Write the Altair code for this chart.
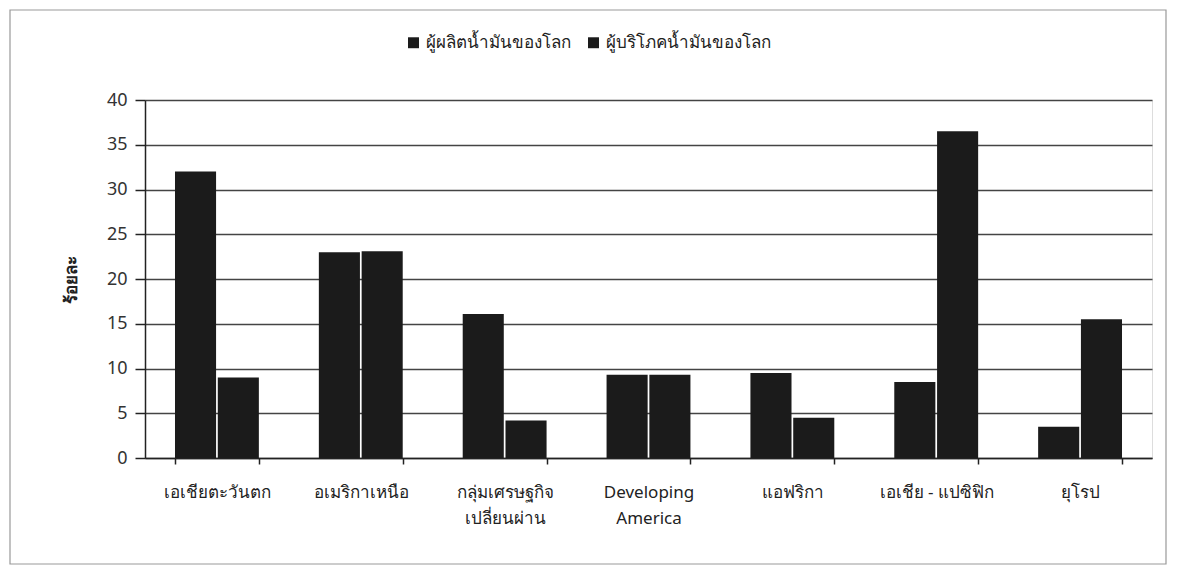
import altair as alt
import pandas as pd

categories = ["เอเชียตะวันตก", "อเมริกาเหนือ", "กลุ่มเศรษฐกิจ\nเปลี่ยนผ่าน", "Developing\nAmerica",
              "แอฟริกา", "เอเชีย - แปซิฟิก", "ยุโรป"]
series = ["ผู้ผลิตน้ำมันของโลก", "ผู้บริโภคน้ำมันของโลก"]
producers = [32.0, 23.0, 16.1, 9.3, 9.5, 8.5, 3.5]
consumers = [9.0, 23.1, 4.2, 9.3, 4.5, 36.5, 15.5]

rows = []
for c, p, q in zip(categories, producers, consumers):
    rows.append({"region": c, "series": series[0], "value": p})
    rows.append({"region": c, "series": series[1], "value": q})
df = pd.DataFrame(rows)

FONT = "Noto Sans"
W, H = 1007, 358

bars = alt.Chart(df).mark_bar(color="#1b1b1b").encode(
    x=alt.X("region:N", sort=categories,
            scale=alt.Scale(paddingInner=0.417, paddingOuter=0.2085),
            axis=alt.Axis(title=None, labelAngle=0, tickBand="extent",
                          labelExpr="split(datum.label, '\\n')",
                          labelFont=FONT, labelFontSize=17, labelColor="#222",
                          labelPadding=20, labelLineHeight=26,
                          domainColor="#222", domainWidth=1.5,
                          tickColor="#222", tickSize=6, tickWidth=1.5, grid=False)),
    xOffset=alt.XOffset("series:N", sort=series, scale=alt.Scale(paddingInner=0.04)),
    y=alt.Y("value:Q", scale=alt.Scale(domain=[0, 40]),
            axis=alt.Axis(title="ร้อยละ", values=[0, 5, 10, 15, 20, 25, 30, 35, 40],
                          titleFont=FONT, titleFontSize=17, titleFontWeight="bold",
                          titleColor="#222", titlePadding=26,
                          labelFont=FONT, labelFontSize=18, labelColor="#333",
                          labelPadding=8,
                          domainColor="#222", domainWidth=1.5,
                          tickColor="#222", tickSize=10, tickWidth=1.5,
                          grid=True, gridColor="#444", gridWidth=1.3)),
    fill=alt.Fill("series:N", sort=series,
                  scale=alt.Scale(domain=series, range=["#1b1b1b", "#1b1b1b"]),
                  legend=alt.Legend(title=None, orient="none", direction="horizontal",
                                    legendX=260, legendY=-66, symbolType="square",
                                    symbolSize=120, symbolStrokeWidth=0,
                                    labelFont=FONT, labelFontSize=17, labelColor="#222",
                                    labelLimit=400, columnPadding=14, labelOffset=4)),
)

frame = alt.Chart(pd.DataFrame({"a": [0]})).mark_rect(
    fill=None, stroke="#999", strokeWidth=1.2
).encode(x=alt.value(-135), x2=alt.value(1021), y=alt.value(-90), y2=alt.value(464))

chart = alt.layer(frame, bars).properties(
    width=W, height=H,
    autosize=alt.AutoSizeParams(type="none"),
    padding={"left": 137, "top": 92, "right": 22, "bottom": 116},
).configure_view(stroke=None).configure(background="white")

chart.save("out.html", embed_options={"renderer": "svg", "actions": False})
